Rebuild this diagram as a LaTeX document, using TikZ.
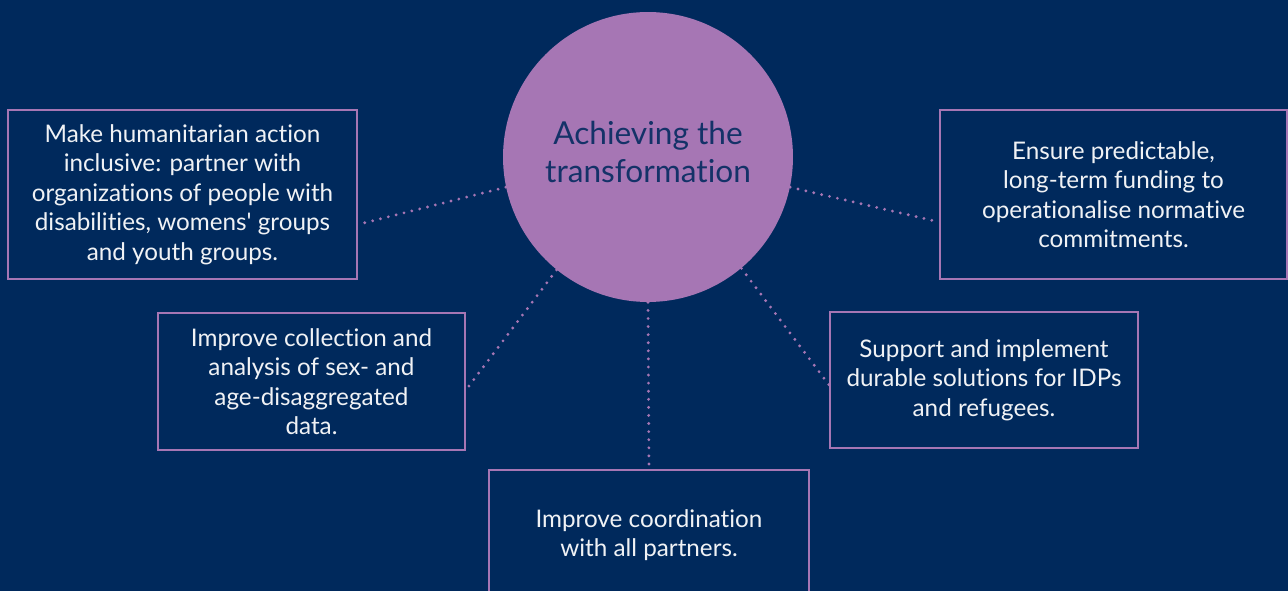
\documentclass[tikz,border=0pt]{standalone}
\usepackage{fontspec}
\setmainfont{Lato}[Ligatures={NoCommon}]
\definecolor{navy}{RGB}{0,41,92}
\definecolor{plum}{RGB}{166,118,180}
\definecolor{hubtext}{RGB}{20,50,104}
\tikzset{
  goal/.style={draw=plum, line width=1.1pt, fill=navy, text=white!94!navy, align=center,
    inner sep=0pt, font=\fontsize{13.8}{16.8}\selectfont},
  link/.style={draw=plum, line width=1.8pt, line cap=round, dash pattern=on 0pt off 4.6pt},
}
\begin{document}
\begin{tikzpicture}[x=0.02cm,y=-0.02cm]
\fill[navy] (0,0) rectangle (1288,591);
\useasboundingbox (0,0) rectangle (1288,591);

\node[circle, fill=plum, minimum size=5.8cm, inner sep=0pt, text=hubtext, align=center,
  text depth=0.19cm, font=\fontsize{18}{21.6}\selectfont] (hub) at (648,157)
  {Achieving the\\transformation};

\node[goal, minimum width=6.98cm, minimum height=3.38cm] (inclusive) at (182.5,194.5)
  {Make humanitarian action\\inclusive: partner with\\organizations of people with\\disabilities, womens\textquotesingle{} groups\\and youth groups.};
\node[goal, minimum width=6.94cm, minimum height=3.38cm] (funding) at (1113.5,194.5)
  {Ensure predictable,\\long-term funding to\\operationalise normative\\commitments.};
\node[goal, minimum width=6.14cm, minimum height=2.74cm] (data) at (311.5,381.5)
  {Improve collection and\\analysis of sex- and\\age-disaggregated\\data.};
\node[goal, minimum width=6.16cm, minimum height=2.72cm] (solutions) at (984,380)
  {Support and implement\\durable solutions for IDPs\\and refugees.};
\node[goal, minimum width=6.4cm, minimum height=2.6cm] (coord) at (649,535)
  {Improve coordination\\with all partners.};

\path[link] (hub.192) -- ([yshift=-0.6cm]inclusive.east);
\path[link] (hub.348) -- ([yshift=-0.55cm]funding.west);
\path[link] (hub.231) -- ([yshift=-0.17cm]data.east);
\path[link] (hub.310) -- ([yshift=-0.1cm]solutions.west);
\path[link] (hub.south) -- (coord.north);
\end{tikzpicture}
\end{document}
